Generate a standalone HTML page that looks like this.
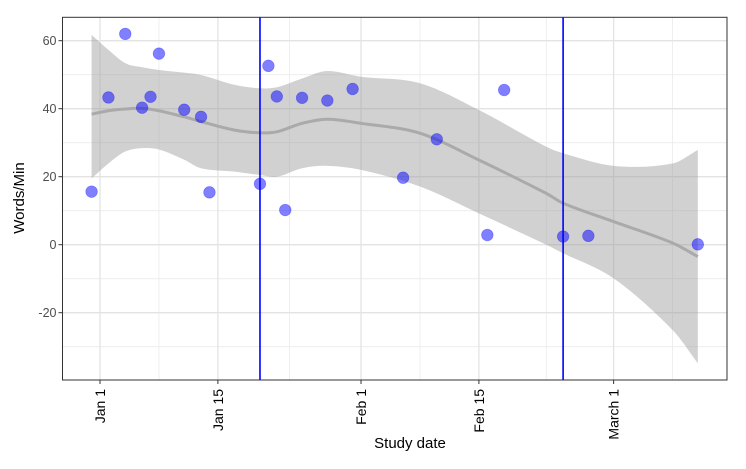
<!DOCTYPE html>
<html><head><meta charset="utf-8"><style>
body{margin:0;background:#fff;}
svg text{font-family:"Liberation Sans",Arial,sans-serif;}
</style></head><body>
<svg id="chart" width="746" height="464" viewBox="0 0 746 464">
<rect x="0" y="0" width="746" height="464" fill="#fff"/>
<g id="grid"></g>
<g id="band"></g>
<g id="vlines"></g>
<g id="points"></g>
<rect x="62.5" y="17.3" width="664.5" height="362.7" fill="none" stroke="#333" stroke-width="1"/>
<g id="axes"></g>
<text x="24" y="198" transform="rotate(-90 24 198)" text-anchor="middle" font-size="15" fill="#000">Words/Min</text>
<text x="410" y="448" text-anchor="middle" font-size="15" fill="#000">Study date</text>
</svg>
<script>
// data (x = days since Jan 1)
const pointDays = [-1,1,3,5,6,7,10,12,13,19,20,21,22,24,27,30,36,40,46,48,55,58,71];
const pointValues = [15.6,43.3,62.0,40.3,43.5,56.2,39.7,37.6,15.4,17.9,52.6,43.6,10.2,43.2,42.4,45.8,19.7,31.0,2.85,45.5,2.4,2.6,0.1];
const smoothDays = [-1,1,3,5,7,10,12,16,19,21,24,27,31,38,45,53,55,61,68,71];
const smoothFit = [38.4,39.4,39.9,40.1,39.4,37.6,36.2,33.7,32.9,33.2,35.7,36.9,35.7,32.8,24.9,15.1,12.2,6.8,0.5,-3.5];
const smoothUpper = [61.7,57.3,53.4,52.2,51.4,50.6,49.9,47,46,46.3,48.9,51.1,49.4,47.5,39.6,28.8,26.9,23.2,23.9,27.9];
const smoothLower = [19.5,23.9,27.4,28.4,28.0,25,22.5,21.5,20.5,20.0,22.5,23.2,22,17.1,9.2,0,-2.5,-9.9,-25.1,-34.9];
const vlineDays = [19,55];
const xTickDays = [0,14,31,45,61];
const xTickLabels = ["Jan 1","Jan 15","Feb 1","Feb 15","March 1"];
const xMinorDays = [7,22.5,38,53,68];
const yTicks = [60,40,20,0,-20];
const yMinor = [50,30,10,-10,-30];

const NS="http://www.w3.org/2000/svg";
const X0=62.5,X1=727,Y0=17.3,Y1=380;
const xs=d=>100+d*8.42;
const ys=v=>244.7-v*3.4;
function mk(tag,attrs,parent){const e=document.createElementNS(NS,tag);for(const k in attrs)e.setAttribute(k,attrs[k]);parent.appendChild(e);return e;}
const grid=document.getElementById('grid'),axes=document.getElementById('axes');
yMinor.forEach(v=>{const l=mk('line',{x1:X0,x2:X1,y1:ys(v),y2:ys(v),stroke:'#ebebeb','stroke-width':0.8},grid);

});
xMinorDays.forEach(d=>{const l=mk('line',{x1:xs(d),x2:xs(d),y1:Y0,y2:Y1,stroke:'#ebebeb','stroke-width':0.8},grid);

});
yTicks.forEach(v=>{const y=ys(v);
const l=mk('line',{x1:X0,x2:X1,y1:y,y2:y,stroke:'#e3e3e3','stroke-width':1.3},grid);


const t=mk('line',{x1:X0-4,x2:X0,y1:y,y2:y,stroke:'#333','stroke-width':1},axes);


const tx=mk('text',{x:X0-6,y:y+4.5,'text-anchor':'end','font-size':12.5,fill:'#4d4d4d'},axes);tx.textContent=v;

});
xTickDays.forEach((d,i)=>{const x=xs(d);
const l=mk('line',{x1:x,x2:x,y1:Y0,y2:Y1,stroke:'#e3e3e3','stroke-width':1.3},grid);


const t=mk('line',{x1:x,x2:x,y1:Y1,y2:Y1+4,stroke:'#333','stroke-width':1},axes);


const tx=mk('text',{x:x+5,y:Y1+9,'text-anchor':'end','font-size':14,fill:'#000',transform:`rotate(-90 ${x+5} ${Y1+9})`},axes);tx.textContent=xTickLabels[i];

});
// cubic Hermite in x-parameter (handles uneven spacing)
function herm(px,py,moveFirst){
  const n=px.length,m=[];
  for(let i=0;i<n;i++){
    if(i===0)m.push((py[1]-py[0])/(px[1]-px[0]));
    else if(i===n-1)m.push((py[n-1]-py[n-2])/(px[n-1]-px[n-2]));
    else m.push((py[i+1]-py[i-1])/(px[i+1]-px[i-1]));
  }
  let d=(moveFirst?'M':'L')+px[0]+','+py[0];
  for(let i=0;i<n-1;i++){const dx=px[i+1]-px[i];
    d+=` C${px[i]+dx/3},${py[i]+m[i]*dx/3} ${px[i+1]-dx/3},${py[i+1]-m[i+1]*dx/3} ${px[i+1]},${py[i+1]}`;}
  return d;
}
const band=document.getElementById('band');
const bx=smoothDays.map(xs);
const upY=smoothUpper.map(ys),loY=smoothLower.map(ys);
const pathD=herm(bx,upY,true)+' '+herm(bx.slice().reverse(),loY.slice().reverse(),false)+' Z';
const pb=mk('path',{d:pathD,fill:'#999','fill-opacity':0.45},band);


const pl=mk('path',{d:herm(bx,smoothFit.map(ys),true),fill:'none',stroke:'#aaaaaa','stroke-width':3},band);


const vl=document.getElementById('vlines');
vlineDays.forEach(d=>{const l=mk('line',{x1:xs(d),x2:xs(d),y1:Y0,y2:Y1,stroke:'#0000ff','stroke-width':1.6},vl);

});
const pg=document.getElementById('points');
pointDays.forEach((d,i)=>{const c=mk('circle',{cx:xs(d),cy:ys(pointValues[i]),r:5.8,fill:'#0000ff','fill-opacity':0.5,stroke:'#0000ff','stroke-opacity':0.3,'stroke-width':0.8},pg);

});
</script>
</body></html>
